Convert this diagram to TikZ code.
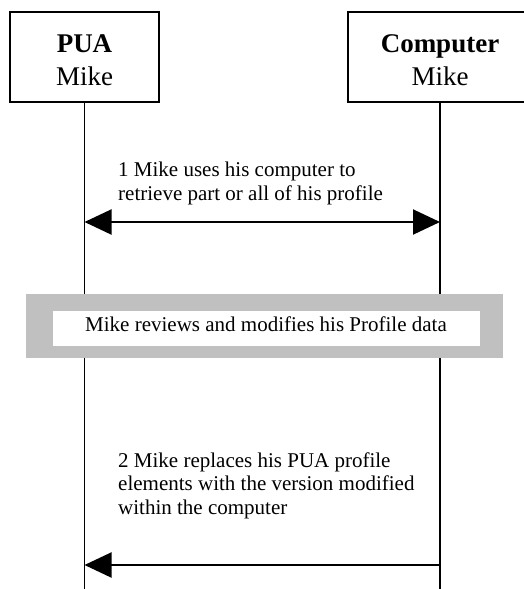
\documentclass[tikz,border=0pt]{standalone}
\usepackage{fontspec}
\setmainfont{Liberation Serif}
\usetikzlibrary{arrows.meta}
\begin{document}
\begin{tikzpicture}[x=1pt,y=-1pt,
  hdrbox/.style={draw, line width=2pt, minimum height=90pt, inner sep=0pt},
  hdrtext/.style={anchor=base, inner sep=0pt, font=\fontsize{27}{33}\selectfont},
  msg/.style={align=left, anchor=base west, inner sep=0pt, font=\fontsize{21}{23.5}\selectfont},
  life/.style={line width=1.5pt},
  tipA/.tip={Triangle[length=27pt,width=25pt]},
  arr/.style={line width=2pt},
]
\useasboundingbox (0,0) rectangle (524,589);
\clip (0,0) rectangle (524,589);
% headers
\node[hdrbox, minimum width=149pt] (pua) at (84.5,57) {};
\node[hdrtext] (puaT1) at (84.5,52) {\textbf{PUA}};
\node[hdrtext] (puaT2) at (84.5,85) {Mike};
\node[hdrbox, minimum width=184pt] (comp) at (440,57) {};
\node[hdrtext] (compT1) at (440,52) {\textbf{Computer}};
\node[hdrtext] (compT2) at (440,85) {Mike};
% action box
\node[fill={rgb,255:red,192;green,192;blue,192}, minimum width=477pt, minimum height=64pt, inner sep=0pt] (review) at (264.5,326) {};
\node[fill=white, minimum width=427pt, minimum height=35pt, inner sep=0pt] (reviewIn) at (266.5,328.5) {};
\node[anchor=base, inner sep=0pt, font=\fontsize{21}{23.5}\selectfont] (reviewT) at (266,331) {Mike reviews and modifies his Profile data};
% lifeline ends
\coordinate (puaEnd) at (84.5,589);
\coordinate (compEnd) at (440,589);
\draw[life] (pua.south) -- (pua.south |- review.north);
\draw[life] (pua.south |- review.south) -- (puaEnd);
\draw[life] (comp.south) -- (comp.south |- review.north);
\draw[life] (comp.south |- review.south) -- (compEnd);
% message 1
\coordinate (m1L) at (84.5,222);
\coordinate (m1R) at (440,222);
\draw[arr, tipA-tipA] (m1L) -- (m1R);
\node[msg] (m1T) at (118,200) {1 Mike uses his computer to\\retrieve part or all of his profile};
% message 2
\coordinate (m2L) at (84.5,565);
\coordinate (m2R) at (440,565);
\draw[arr, -tipA] (m2R) -- (m2L);
\node[msg] (m2T) at (118,514) {2 Mike replaces his PUA profile\\elements with the version modified\\within the computer};
\end{tikzpicture}
\end{document}
